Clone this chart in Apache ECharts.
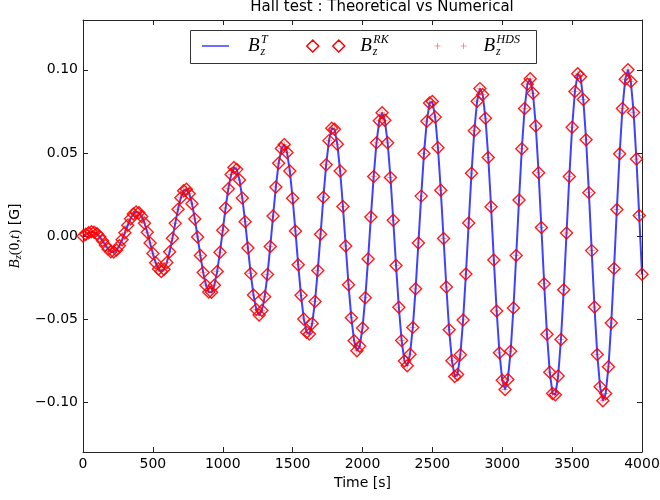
<!DOCTYPE html>
<html>
<head>
<meta charset="utf-8">
<script src="https://cdn.jsdelivr.net/npm/echarts@6/dist/echarts.min.js"></script>
<style>html,body{margin:0;padding:0;background:#fff}#c{width:660px;height:500px}</style>
</head>
<body>
<div id="c"></div>
<script>
// Time samples [s]
const times = [0,20,40,60,80,100,120,140,160,180,200,220,240,260,280,300,320,340,360,380,
400,420,440,460,480,500,520,540,560,580,600,620,640,660,680,700,720,740,760,780,
800,820,840,860,880,900,920,940,960,980,1000,1020,1040,1060,1080,1100,1120,1140,1160,1180,
1200,1220,1240,1260,1280,1300,1320,1340,1360,1380,1400,1420,1440,1460,1480,1500,1520,1540,1560,1580,
1600,1620,1640,1660,1680,1700,1720,1740,1760,1780,1800,1820,1840,1860,1880,1900,1920,1940,1960,1980,
2000,2020,2040,2060,2080,2100,2120,2140,2160,2180,2200,2220,2240,2260,2280,2300,2320,2340,2360,2380,
2400,2420,2440,2460,2480,2500,2520,2540,2560,2580,2600,2620,2640,2660,2680,2700,2720,2740,2760,2780,
2800,2820,2840,2860,2880,2900,2920,2940,2960,2980,3000,3020,3040,3060,3080,3100,3120,3140,3160,3180,
3200,3220,3240,3260,3280,3300,3320,3340,3360,3380,3400,3420,3440,3460,3480,3500,3520,3540,3560,3580,
3600,3620,3640,3660,3680,3700,3720,3740,3760,3780,3800,3820,3840,3860,3880,3900,3920,3940,3960,3980,4000];

// B_z(0,t) [G] (theory and both numerical schemes coincide)
const bzTheory = [0,0.0010,0.0019,0.0025,0.0023,0.0013,-0.0005,-0.0029,-0.0055,-0.0079,
-0.0095,-0.0096,-0.0085,-0.0059,-0.0023,0.0020,0.0064,0.0104,0.0132,0.0145,
0.0140,0.0118,0.0077,0.0022,-0.0042,-0.0106,-0.0161,-0.0199,-0.0213,-0.0200,
-0.0160,-0.0095,-0.0013,0.0076,0.0161,0.0230,0.0273,0.0282,0.0255,0.0194,
0.0103,-0.0006,-0.0118,-0.0219,-0.0296,-0.0337,-0.0339,-0.0296,-0.0213,-0.0098,
0.0034,0.0168,0.0285,0.0370,0.0412,0.0401,0.0337,0.0228,0.0086,-0.0072,
-0.0225,-0.0355,-0.0442,-0.0476,-0.0449,-0.0365,-0.0232,-0.0063,0.0120,0.0295,
0.0438,0.0526,0.0550,0.0503,0.0391,0.0227,0.0030,-0.0173,-0.0357,-0.0499,
-0.0579,-0.0590,-0.0527,-0.0394,-0.0207,0.0011,0.0233,0.0429,0.0574,0.0649,
0.0642,0.0552,0.0391,0.0177,-0.0060,-0.0294,-0.0492,-0.0631,-0.0691,-0.0664,
-0.0553,-0.0371,-0.0139,0.0115,0.0358,0.0561,0.0694,0.0742,0.0696,0.0561,
0.0352,0.0095,-0.0177,-0.0429,-0.0629,-0.0752,-0.0781,-0.0711,-0.0550,-0.0318,
-0.0042,0.0240,0.0496,0.0691,0.0800,0.0809,0.0716,0.0531,0.0276,-0.0015,
-0.0307,-0.0564,-0.0751,-0.0845,-0.0833,-0.0715,-0.0505,-0.0229,0.0078,0.0378,
0.0634,0.0811,0.0887,0.0851,0.0708,0.0473,0.0176,-0.0145,-0.0451,-0.0703,
-0.0868,-0.0924,-0.0863,-0.0693,-0.0433,-0.0117,0.0217,0.0525,0.0767,0.0914,
0.0946,0.0859,0.0662,0.0381,0.0051,-0.0287,-0.0591,-0.0820,-0.0948,-0.0955,
-0.0843,-0.0623,-0.0323,0.0018,0.0358,0.0655,0.0870,0.0976,0.0959,0.0821,
0.0579,0.0261,-0.0088,-0.0428,-0.0713,-0.0908,-0.0991,-0.0948,-0.0787,-0.0524,
-0.0195,0.0160,0.0495,0.0768,0.0943,0.1000,0.0930,0.0744,0.0463,0.0124,-0.0230];
const bzRK = bzTheory;
const bzHDS = bzTheory;

const xTicks = [0,500,1000,1500,2000,2500,3000,3500,4000];
const yTicks = [-0.10,-0.05,0.00,0.05,0.10];

const seriesNames = ['T','RK','HDS'];

const pairs = arr => times.map((t,i)=>[t, arr[i]]);

const SANS = 'DejaVu Sans';
const SERIF = 'Liberation Serif';
const axisColor = '#222';

function legendRich(padLeft) {
  return {
    b: {fontFamily: SERIF, fontStyle:'italic', fontSize: 19, lineHeight: 24, verticalAlign:'middle', color:'#000', padding:[0,1,0,padLeft]},
    sub: {fontFamily: SERIF, fontStyle:'italic', fontSize: 12, lineHeight: 11, verticalAlign:'bottom', width: 0.5, color:'#000'},
    sup: {fontFamily: SERIF, fontStyle:'italic', fontSize: 12, lineHeight: 11, verticalAlign:'top', color:'#000'}
  };
}

const chart = echarts.init(document.getElementById('c'), null, {renderer:'canvas'});

const option = {
  animation: false,
  backgroundColor: '#fff',
  title: {
    text: 'Hall test : Theoretical vs Numerical',
    left: 382, top: 0, textAlign: 'center', padding: 0,
    textStyle: {fontFamily: SANS, fontSize: 15, fontWeight: 'normal', color: '#000'}
  },
  grid: {left: 83, right: 18, top: 20, bottom: 48, containLabel: false, outerBoundsMode: 'none'},
  legend: [
    {
      data: [{name: seriesNames[0], icon: 'rect', itemStyle: {color: 'rgba(60,60,255,0.75)', borderWidth: 0}}],
      left: 202, top: 34, padding: 0, itemWidth: 27, itemHeight: 2, selectedMode: false,
      formatter: '{b|B}{sub|z}{sup|T}',
      textStyle: {rich: legendRich(14)}
    },
    {
      data: [{name: seriesNames[1], icon: 'path://M0,6L6,0L12,6L6,12Z M26,6L32,0L38,6L32,12Z',
              itemStyle: {color: 'rgba(0,0,0,0)', borderColor: '#ff0000', borderWidth: 1.5}}],
      left: 306, top: 34, padding: 0, itemWidth: 39, itemHeight: 12, selectedMode: false,
      formatter: '{b|B}{sub|z}{sup|RK}',
      textStyle: {rich: legendRich(10)}
    },
    {
      data: [{name: seriesNames[2], icon: 'path://M0,3L6,3M3,0L3,6M26,3L32,3M29,0L29,6',
              itemStyle: {color: 'rgba(0,0,0,0)', borderColor: 'rgba(255,0,0,0.5)', borderWidth: 1}}],
      left: 434, top: 34, padding: 0, itemWidth: 32, itemHeight: 6, selectedMode: false,
      formatter: '{b|B}{sub|z}{sup|HDS}',
      textStyle: {rich: legendRich(12)}
    }
  ],
  graphic: [{
    type: 'rect', left: 190, top: 30, z: 100,
    shape: {width: 346, height: 33},
    style: {fill: 'rgba(0,0,0,0)', stroke: '#333', lineWidth: 1}
  }],
  xAxis: [
    {
      type: 'value', position: 'bottom', min: 0, max: 4000, interval: 500,
      name: 'Time [s]', nameLocation: 'middle', nameGap: 24,
      nameTextStyle: {fontFamily: SANS, fontSize: 14, color: '#000'},
      axisLine: {show: true, onZero: false, lineStyle: {color: axisColor, width: 1}},
      axisTick: {show: true, inside: true, length: 5, lineStyle: {color: axisColor}},
      axisLabel: {show: true, margin: 5, fontFamily: SANS, fontSize: 14, color: '#000', formatter: v => String(v)},
      splitLine: {show: false}
    },
    {
      type: 'value', position: 'top', min: 0, max: 4000, interval: 500,
      axisLine: {show: true, onZero: false, lineStyle: {color: axisColor, width: 1}},
      axisTick: {show: true, inside: true, length: 5, lineStyle: {color: axisColor}},
      axisLabel: {show: false},
      splitLine: {show: false}
    }
  ],
  yAxis: [
    {
      type: 'value', position: 'left', min: -0.13, max: 0.13,
      axisLine: {show: true, onZero: false, lineStyle: {color: axisColor, width: 1}},
      axisTick: {show: true, inside: true, length: 5, lineStyle: {color: axisColor}, customValues: yTicks},
      axisLabel: {show: true, margin: 5, fontFamily: SANS, fontSize: 14, color: '#000', customValues: yTicks,
        formatter: v => (v < 0 ? '\u2212' : '') + Math.abs(v).toFixed(2)},
      splitLine: {show: false},
      name: '{b|B}{sub|z}{m|(0,}{i|t}{m|)}{g| [G]}',
      nameLocation: 'middle', nameRotate: 90, nameGap: 54,
      nameTextStyle: {
        rich: {
          b: {fontFamily: SERIF, fontStyle:'italic', fontSize: 15, lineHeight: 18, verticalAlign:'middle', color:'#000'},
          sub: {fontFamily: SERIF, fontStyle:'italic', fontSize: 10.5, lineHeight: 9, verticalAlign:'bottom', color:'#000'},
          m: {fontFamily: SERIF, fontSize: 15, lineHeight: 18, verticalAlign:'middle', color:'#000'},
          i: {fontFamily: SERIF, fontStyle:'italic', fontSize: 15, lineHeight: 18, verticalAlign:'middle', color:'#000'},
          g: {fontFamily: SANS, fontSize: 14, lineHeight: 18, verticalAlign:'middle', color:'#000'}
        }
      }
    },
    {
      type: 'value', position: 'right', min: -0.13, max: 0.13,
      axisLine: {show: true, onZero: false, lineStyle: {color: axisColor, width: 1}},
      axisTick: {show: true, inside: true, length: 5, lineStyle: {color: axisColor}, customValues: yTicks},
      axisLabel: {show: false},
      splitLine: {show: false}
    }
  ],
  series: [
    {
      name: seriesNames[0], type: 'line', xAxisIndex: 0, yAxisIndex: 0,
      data: pairs(bzTheory), showSymbol: false, symbol: 'none', clip: true, z: 2,
      lineStyle: {color: 'rgba(0,0,255,0.75)', width: 2},
      itemStyle: {color: 'rgba(60,60,255,0.75)'}
    },
    {
      name: seriesNames[1], type: 'scatter', xAxisIndex: 0, yAxisIndex: 0,
      data: pairs(bzRK), symbol: 'diamond', symbolSize: 12, clip: true, z: 3,
      itemStyle: {color: 'rgba(0,0,0,0)', borderColor: 'rgba(255,0,0,0.9)', borderWidth: 1.4, opacity: 1}
    },
    {
      name: seriesNames[2], type: 'scatter', xAxisIndex: 0, yAxisIndex: 0,
      data: pairs(bzHDS), symbol: 'path://M0,3L6,3M3,0L3,6', symbolSize: 6, clip: true, z: 4,
      itemStyle: {color: 'rgba(0,0,0,0)', borderColor: 'rgba(255,0,0,0.5)', borderWidth: 1}
    }
  ]
};
chart.setOption(option);
</script>
</body>
</html>
